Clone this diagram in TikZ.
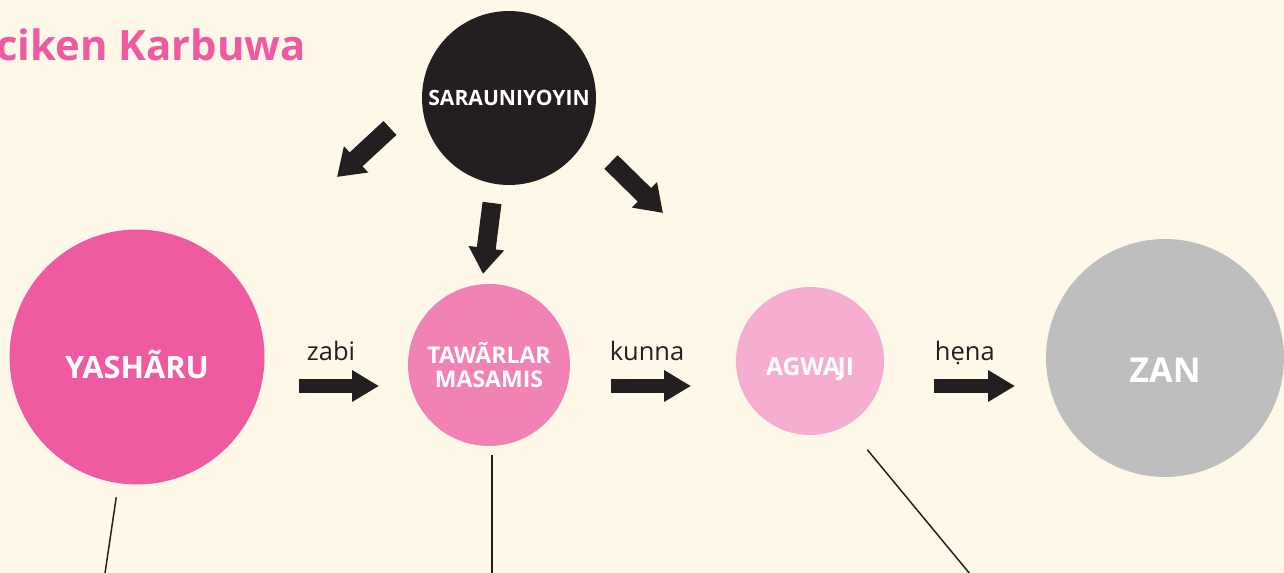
\documentclass[tikz,border=0pt]{standalone}
\usepackage{fontspec}
\setmainfont{Open Sans}
\usetikzlibrary{arrows.meta,positioning}
\definecolor{cream}{HTML}{FDF8E8}
\definecolor{inkblack}{HTML}{231F20}
\definecolor{pinkdeep}{HTML}{EF5BA1}
\definecolor{pinkmid}{HTML}{F182B4}
\definecolor{pinklight}{HTML}{F5AECF}
\definecolor{ashgray}{HTML}{BEBEBE}

\begin{document}
\begin{tikzpicture}[x=0.02cm,y=-0.02cm,
  bubble/.style={circle,inner sep=0pt,text=white,align=center,font=\bfseries},
  block/.style={draw=inkblack,line width=0.28cm,-{Triangle[length=0.54cm,width=0.6cm]}},
  bigblock/.style={draw=inkblack,line width=0.38cm,-{Triangle[length=0.52cm,width=0.68cm]}},
  stem/.style={draw=inkblack,line width=0.85pt},
  verb/.style={text=inkblack,anchor=base,yshift=0.52cm,font=\fontsize{14.5}{17}\selectfont},
  title/.style={text=pinkdeep,font=\bfseries\fontsize{23.8}{28}\selectfont}]

  \useasboundingbox (0,0) rectangle (1284,573);
  \fill[cream] (0,0) rectangle (1284,573);
  \clip (0,0) rectangle (1284,573);

  \node[title,anchor=base east,inner xsep=0pt] (title) at (306,61) {ciken Karbuwa};

  % the five circles
  \node[bubble,fill=inkblack,minimum size=3.48cm,font=\bfseries\fontsize{12}{14}\selectfont] (sarauniya) at (509,98) {SARAUNIYOYIN};
  \node[bubble,fill=pinkdeep,minimum size=5.1cm,text height=0.88cm,text depth=0pt,font=\bfseries\fontsize{17.5}{20}\selectfont] (yashar) at (137,357) {YASHÃRU};
  \node[bubble,fill=pinkmid,minimum size=3.24cm,font=\bfseries\fontsize{13.1}{13.9}\selectfont] (tawar) at (489,365) {TAWÃRLAR\\MASAMIS};
  \node[bubble,fill=pinklight,minimum size=2.96cm,text height=0.6cm,text depth=0pt,font=\bfseries\fontsize{14}{16}\selectfont] (agwaji) at (810,361) {AGWA\kern-0.1em JI};
  \node[bubble,fill=ashgray,minimum size=4.76cm,text height=1.0cm,text depth=0pt,font=\bfseries\fontsize{19.5}{23}\selectfont] (zan) at (1165,358) {ZAN};

  % arrow ends
  \coordinate (zabiA) at (299,386);  \coordinate (zabiB) at (379,386);
  \coordinate (kunnaA) at (611,386); \coordinate (kunnaB) at (691,386);
  \coordinate (henaA) at (934,386);  \coordinate (henaB) at (1015,386);
  \coordinate (leftA) at (390,128);  \coordinate (leftB) at (337,177);
  \coordinate (midA) at (492,203);   \coordinate (midB) at (483,274);
  \coordinate (rightA) at (611,162); \coordinate (rightB) at (663,213);

  \draw[block] (zabiA) -- node[verb,pos=0.4] {zabi} (zabiB);
  \draw[block] (kunnaA) -- node[verb,pos=0.45] {kunna} (kunnaB);
  \draw[block] (henaA) -- node[verb,pos=0.38] {hẹna} (henaB);

  \draw[bigblock] (leftA) -- (leftB);
  \draw[bigblock] (midA) -- (midB);
  \draw[bigblock] (rightA) -- (rightB);

  % stems running off the page
  \coordinate (yasharFoot) at (104,580);
  \coordinate (tawarFoot) at (492,580);
  \coordinate (agwajiFoot) at (975,580);
  \draw[stem,shorten <=8pt] (yashar) -- (yasharFoot);
  \draw[stem,shorten <=5pt] (tawar.south -| tawarFoot) -- (tawarFoot);
  \draw[stem,shorten <=18pt] (agwaji.-60) -- (agwajiFoot);
\end{tikzpicture}
\end{document}
